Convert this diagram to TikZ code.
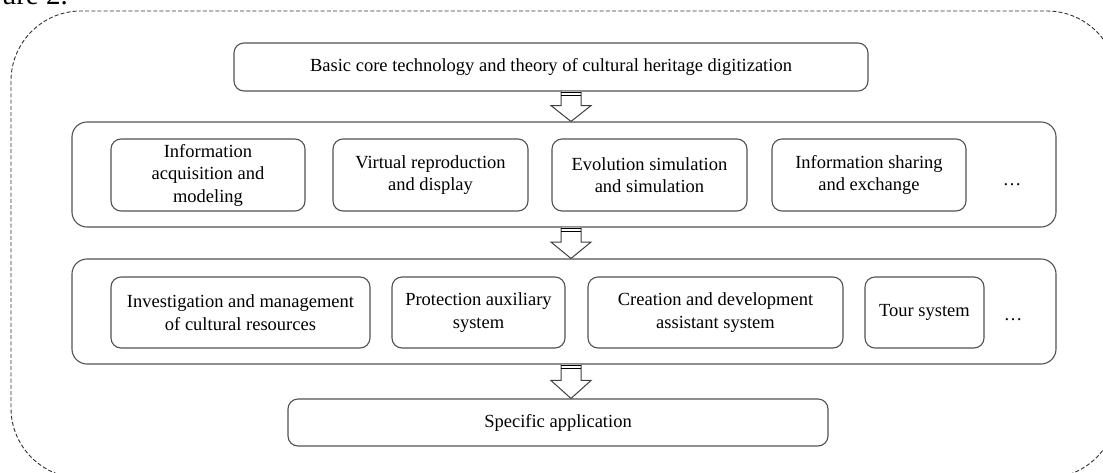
\documentclass[tikz,border=0pt]{standalone}
\usepackage{fontspec}
\setmainfont{Liberation Serif}
\usetikzlibrary{calc}
\tikzset{
  boxline/.style={draw=black!68, line width=1.1pt},
  outerbox/.style={draw=black!80, line width=0.9pt, dash pattern=on 4pt off 2.2pt, rounded corners=70pt},
  rowbox/.style={boxline, rounded corners=15pt, inner sep=0pt},
  itembox/.style={boxline, rounded corners=10pt, align=center, inner sep=0pt,
    font=\fontsize{18.5pt}{22.5pt}\selectfont},
  txt/.style={inner sep=0pt, font=\fontsize{18.5pt}{22.5pt}\selectfont},
  arrowline/.style={draw=black!75, line width=1pt, fill=white},
  arrowbar/.style={draw=black, line width=1.3pt}
}
\newcommand\hollowarrow[2]{%
  \draw[arrowline] let \p1=(ax |- #1.south), \p2=(ax |- #2.north), \n1={(\y1-\y2)*0.47} in
    (\x1-10pt,\y1) -- (\x1-10pt,\y1-\n1) -- (\x1-20pt,\y1-\n1) -- (\x2,\y2)
    -- (\x1+20pt,\y1-\n1) -- (\x1+10pt,\y1-\n1) -- (\x1+10pt,\y1);
  \draw[arrowbar] let \p1=(ax |- #1.south) in
    (\x1-10pt,\y1-0.7pt) -- (\x1+10pt,\y1-0.7pt)
    (\x1-10pt,\y1-3.6pt) -- (\x1+10pt,\y1-3.6pt);
}
\begin{document}
\begin{tikzpicture}[x=1pt,y=-1pt]
\useasboundingbox (0,0) rectangle (1103,472);
\fill[white] (0,0) rectangle (1103,472);
\node[inner sep=0pt, anchor=base east, font=\fontsize{29pt}{32pt}\selectfont] (fig) at (68,4.5) {ure 2.};
\draw[outerbox] (11,11) rectangle (1117,478);
\coordinate (ax) at (571,0);
% top box
\node[itembox, minimum width=634pt, minimum height=48pt] (top) at (551,67)
  {Basic core technology and theory of cultural heritage digitization};
% row 1
\node[rowbox, minimum width=984pt, minimum height=105pt] (row1) at (564,174.5) {};
\node[itembox, minimum width=194pt, minimum height=72pt] (a1) at (208,175)
  {Information\\acquisition and\\modeling};
\node[itembox, minimum width=195pt, minimum height=72pt] (a2) at (430.5,175)
  {Virtual reproduction\\and display};
\node[itembox, minimum width=195pt, minimum height=72pt] (a3) at (649.5,175)
  {Evolution simulation\\and simulation};
\node[itembox, minimum width=194pt, minimum height=72pt] (a4) at (869,175)
  {Information sharing\\and exchange};
\node[txt, anchor=base] (adots) at (1012,185) {\dots};
% row 2
\node[rowbox, minimum width=984pt, minimum height=105pt] (row2) at (564,311.5) {};
\node[itembox, minimum width=259pt, minimum height=71pt] (b1) at (240.5,312.5)
  {Investigation and management\\of cultural resources};
\node[itembox, minimum width=173pt, minimum height=71pt] (b2) at (478.5,312.5)
  {Protection auxiliary\\system};
\node[itembox, minimum width=255pt, minimum height=71pt] (b3) at (715.5,312.5)
  {Creation and development\\assistant system};
\node[itembox, minimum width=119pt, minimum height=71pt] (b4) at (924.5,312.5)
  {Tour system};
\node[txt, anchor=base] (bdots) at (1013,320) {\dots};
% bottom box
\node[itembox, minimum width=540pt, minimum height=47pt] (app) at (558,422.5)
  {Specific application};
% arrows
\hollowarrow{top}{row1}
\hollowarrow{row1}{row2}
\hollowarrow{row2}{app}
\end{tikzpicture}
\end{document}
